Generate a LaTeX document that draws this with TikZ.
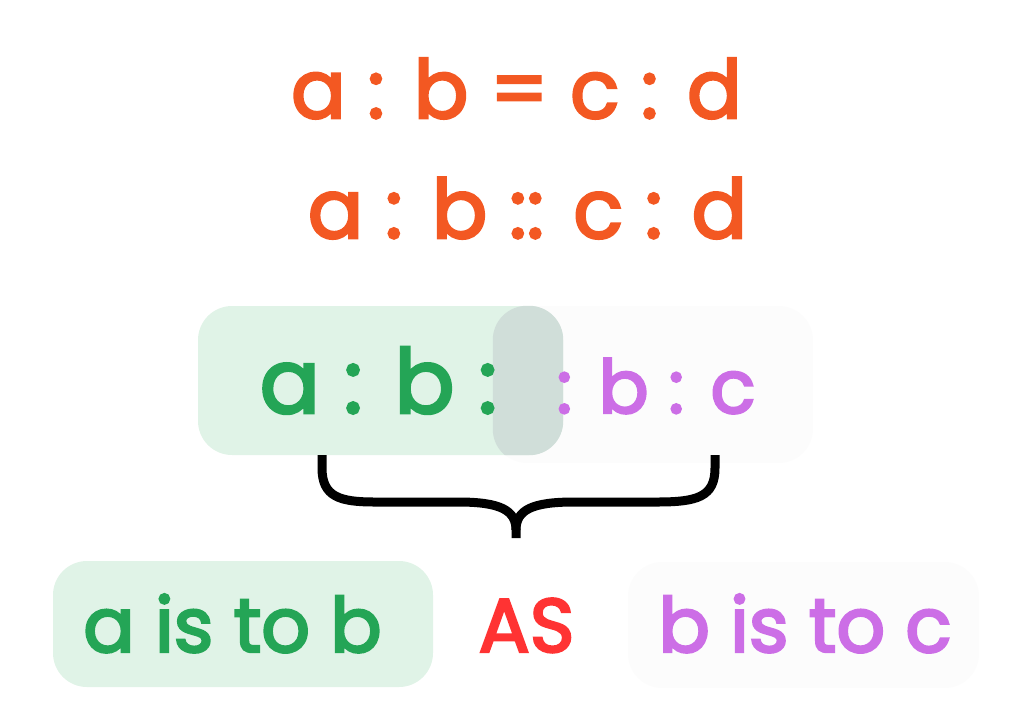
\documentclass[tikz,border=0pt]{standalone}
\usepackage{fontspec}
\setmainfont{Poppins}[FakeBold=3.2]
\newfontfamily\pf{Poppins}[FakeBold=3.2]
\definecolor{orng}{HTML}{F35822}
\definecolor{gtext}{HTML}{24A556}
\definecolor{gfill}{HTML}{E0F3E7}
\definecolor{ovl}{HTML}{D0DED9}
\definecolor{wfill}{HTML}{FCFCFC}
\definecolor{ptext}{HTML}{CC6EE6}
\definecolor{rtext}{HTML}{FF3333}
\begin{document}
\begin{tikzpicture}[x=1pt,y=-1pt,
  box/.style={rounded corners=34pt, inner sep=0pt},
  eq/.style={anchor=base, inner sep=0pt, text=orng},
  mid/.style={anchor=base, inner sep=0pt, font=\pf\fontsize{89}{89}\selectfont},
  midsmall/.style={anchor=base, inner sep=0pt, font=\pf\fontsize{74}{74}\selectfont},
  low/.style={anchor=base, inner sep=0pt, font=\pf\fontsize{76}{76}\selectfont},
  bracestyle/.style={line width=9pt, black}]
\useasboundingbox (0,0) rectangle (1024,726);
% top equations
\node[eq, font=\pf\fontsize{81}{81}\selectfont] (eq1) at (516.5,118) {a : b = c : d};
\node[eq, font=\pf\fontsize{82}{82}\selectfont] (eq2) at (527.5,238) {a : b :: c : d};
% middle boxes
\node[box, fill=wfill, minimum width=320pt, minimum height=157pt] (pbox) at (653,384.5) {};
\node[box, fill=gfill, minimum width=365pt, minimum height=149pt] (gbox) at (380.5,380.5) {};
\begin{scope}
  \clip[rounded corners=34pt] (gbox.south west) rectangle (gbox.north east);
  \fill[ovl, rounded corners=34pt] (pbox.south west) rectangle (pbox.north east);
\end{scope}
\node[mid, text=gtext] (gmid) at (378.5,413) {a : b :};
\node[midsmall, text=ptext] (pmid) at (656,413) {: b : c};
% brace
\coordinate (bl) at (322,455);
\coordinate (br) at (715,455);
\coordinate (tip) at (516,538);
\draw[bracestyle] (bl) -- (322,468) .. controls (322,497) and (340,502) .. (375,502) -- (458,502) .. controls (500,502) and (516,510) .. (516,530) -- (tip);
\draw[bracestyle] (br) -- (715,468) .. controls (715,497) and (697,502) .. (657,502) -- (574,502) .. controls (532,502) and (516,510) .. (516,530);
% bottom row
\node[box, fill=gfill, minimum width=380pt, minimum height=126pt] (gbot) at (243,624) {};
\node[box, fill=wfill, minimum width=351pt, minimum height=126pt] (pbot) at (803.5,625) {};
\node[low, text=gtext] (gl) at (232.5,652) {a is to b};
\node[low, text=rtext] (as) at (526.5,652) {AS};
\node[low, text=ptext] (pl) at (805,652) {b is to c};
\end{tikzpicture}
\end{document}
